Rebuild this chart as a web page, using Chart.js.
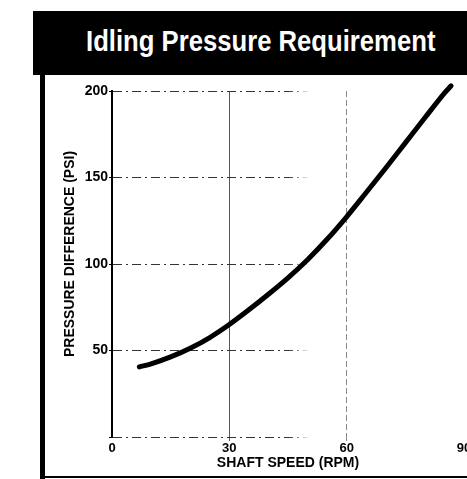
<!DOCTYPE html>
<html>
<head>
<meta charset="utf-8">
<script src="https://cdn.jsdelivr.net/npm/chart.js@4"></script>
<style>
  html, body { margin: 0; padding: 0; background: #fff; width: 467px; height: 479px; overflow: hidden; }
  #header { position: absolute; left: 33px; top: 11px; width: 434px; height: 64px; background: #000; }
  #title {
    position: absolute; left: 86px; top: 27px; margin: 0;
    font-family: "Liberation Sans", Arial, sans-serif;
    font-weight: bold; font-size: 29px; line-height: 1; color: #fff; white-space: nowrap;
    transform: scaleX(0.885); transform-origin: 0 0;
  }
  #leftRule { position: absolute; left: 40px; top: 75px; width: 5px; height: 404px; background: #000; }
  #bottomRule { position: absolute; left: 40px; top: 476px; width: 427px; height: 2px; background: #000; }
  #chart { position: absolute; left: 0; top: 0; z-index: 2; }
</style>
</head>
<body>
<div id="header"></div>
<h1 id="title">Idling Pressure Requirement</h1>
<div id="leftRule"></div>
<div id="bottomRule"></div>
<canvas id="chart" width="467" height="479"></canvas>
<script>
  // values
  const shaftSpeed = [7, 10, 15, 20, 25, 30, 35, 40, 45, 50, 55, 60, 65, 70, 75, 80, 85, 86.7];
  const pressureDiff = [40.5, 42.3, 46.3, 51.3, 57.5, 65, 73.5, 82.5, 92, 102.5, 114.3, 127.3, 141.3, 155.5, 170, 184.5, 198.8, 203];
  const speedTicks = [0, 30, 60, 90];
  const pressureTicks = [50, 100, 150, 200];
  const yTitle = "PRESSURE DIFFERENCE (PSI)";

  const labelFont = { family: "'Liberation Sans', Arial, sans-serif", weight: "bold", size: 14 };

  // horizontal grid lines fade out about half way across, like the scan
  function fadingGrid(ctx) {
    const area = ctx.chart.chartArea;
    if (!area) return "#333";
    const g = ctx.chart.ctx.createLinearGradient(area.left, 0, area.right, 0);
    g.addColorStop(0, "#333");
    g.addColorStop(0.5, "#333");
    g.addColorStop(0.56, "rgba(0,0,0,0)");
    g.addColorStop(1, "rgba(0,0,0,0)");
    return g;
  }

  // the y title sits a little above the middle of the axis
  const yTitlePlugin = {
    id: "yTitle",
    afterDraw(chart) {
      const c = chart.ctx;
      c.save();
      c.translate(70, 254);
      c.rotate(-Math.PI / 2);
      c.font = "bold 14px 'Liberation Sans', Arial, sans-serif";
      c.fillStyle = "#000";
      c.textAlign = "center";
      c.textBaseline = "middle";
      c.fillText(yTitle, 0, 0);
      c.restore();
    }
  };

  new Chart(document.getElementById("chart"), {
    type: "line",
    data: {
      datasets: [{
        data: shaftSpeed.map((s, i) => ({ x: s, y: pressureDiff[i] })),
        borderColor: "#000",
        borderWidth: 5,
        borderCapStyle: "round",
        pointRadius: 0,
        cubicInterpolationMode: "monotone",
        clip: false
      }]
    },
    options: {
      responsive: false,
      animation: false,
      devicePixelRatio: 1,
      layout: { padding: { top: 91, right: 3, left: 0, bottom: 0 } },
      plugins: { legend: { display: false }, tooltip: { enabled: false } },
      scales: {
        x: {
          type: "linear",
          min: 0,
          max: 90,
          afterBuildTicks: s => { s.ticks = speedTicks.map(v => ({ value: v })); },
          afterFit: s => { s.height = 42; s.paddingLeft = 0; s.paddingRight = 0; },
          ticks: { color: "#000", font: { ...labelFont, size: 13 }, padding: 0, maxRotation: 0 },
          grid: {
            tickLength: 4,
            color: ctx => {
              const v = ctx.tick ? ctx.tick.value : null;
              if (v === 30) return "#555";
              if (v === 60) return "#888";
              return "rgba(0,0,0,0)";
            }
          },
          border: {
            display: false,
            dash: ctx => (ctx.tick && ctx.tick.value === 60 ? [6, 3] : [])
          },
          title: {
            display: true,
            text: "SHAFT SPEED (RPM)",
            color: "#000",
            font: labelFont,
            padding: { top: 0, bottom: 7 }
          }
        },
        y: {
          min: 0,
          max: 200,
          afterBuildTicks: s => { s.ticks = [0, ...pressureTicks].map(v => ({ value: v })); },
          afterFit: s => { s.width = 112; },
          ticks: {
            color: "#000",
            font: labelFont,
            padding: 1,
            callback: v => (v === 0 ? "" : v)
          },
          grid: { tickLength: 3, color: fadingGrid, tickColor: "#000" },
          border: { display: true, color: "#000", width: 2, dash: [9, 4, 2, 4] }
        }
      }
    },
    plugins: [yTitlePlugin]
  });
</script>
</body>
</html>
